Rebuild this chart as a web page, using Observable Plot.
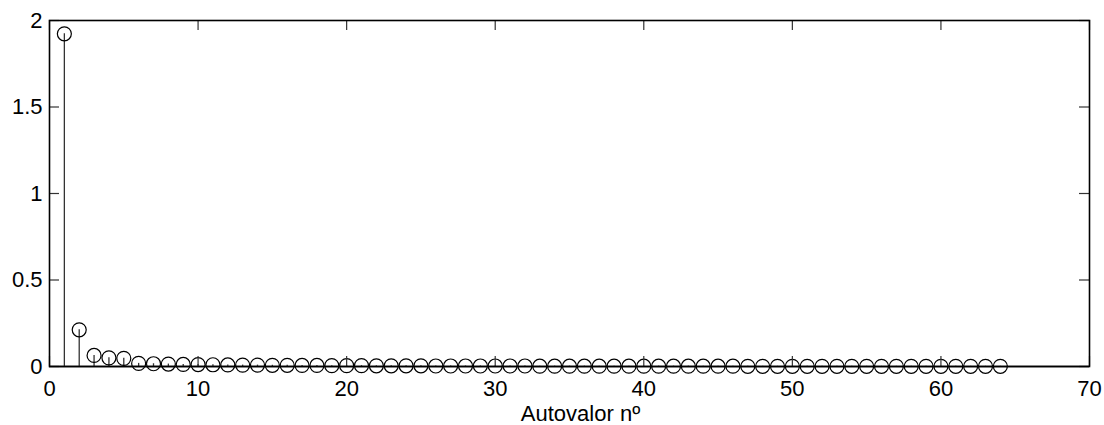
<!DOCTYPE html>
<html>
<head>
<meta charset="utf-8">
<script src="https://cdn.jsdelivr.net/npm/d3@7"></script>
<script src="https://cdn.jsdelivr.net/npm/@observablehq/plot@0.6"></script>
<style>
  body { margin: 0; background: #fff; }
</style>
</head>
<body>
<div id="chart"></div>
<script>
// Eigenvalues in order of magnitude (stem plot)
const eigenvalues = [
  1.923, 0.212, 0.064, 0.050, 0.047, 0.018, 0.016, 0.014, 0.012, 0.011,
  0.010, 0.009, 0.008, 0.008, 0.007, 0.007, 0.006, 0.006, 0.005, 0.005,
  0.005, 0.004, 0.004, 0.004, 0.004, 0.003, 0.003, 0.003, 0.003, 0.003,
  0.003, 0.003, 0.002, 0.002, 0.002, 0.002, 0.002, 0.002, 0.002, 0.002,
  0.002, 0.002, 0.002, 0.002, 0.002, 0.002, 0.001, 0.001, 0.001, 0.001,
  0.001, 0.001, 0.001, 0.001, 0.001, 0.001, 0.001, 0.001, 0.001, 0.001,
  0.001, 0.001, 0.001, 0.001
];
const xTicks = [0, 10, 20, 30, 40, 50, 60, 70];
const yTicks = [0, 0.5, 1, 1.5, 2];
const xLabel = "Autovalor nº";

const data = eigenvalues.map((v, i) => ({n: i + 1, v}));

const W = 1104, H = 425;
const mL = 49, mR = 15, mT = 20, mB = 59;
const innerW = W - mL - mR, innerH = H - mT - mB;
const tickLen = 10;

const chart = Plot.plot({
  width: W,
  height: H,
  marginLeft: mL,
  marginRight: mR,
  marginTop: mT,
  marginBottom: mB,
  style: {
    fontFamily: '"Liberation Sans", Arial, Helvetica, sans-serif',
    fontSize: "22px",
    background: "white",
    color: "black"
  },
  x: {domain: [0, 70]},
  y: {domain: [0, 2]},
  marks: [
    Plot.axisX(xTicks, {tickSize: 0, tickPadding: 14, label: null, tickFormat: d => String(d), fontSize: 22}),
    Plot.axisY(yTicks, {tickSize: 0, tickPadding: 7, label: null, tickFormat: d => String(d), fontSize: 22}),
    // stems and baseline
    Plot.ruleY([0], {stroke: "black", strokeWidth: 1.5}),
    Plot.ruleX(data, {x: "n", y1: 0, y2: "v", stroke: "#333", strokeWidth: 1.3}),
    Plot.dot(data, {x: "n", y: "v", r: 7, stroke: "black", fill: "none", strokeWidth: 1.2}),
    // inward tick marks on all four sides
    Plot.ruleX(xTicks, {stroke: "#333", strokeWidth: 1.2, insetTop: innerH - tickLen}),
    Plot.ruleX(xTicks, {stroke: "#333", strokeWidth: 1.2, insetBottom: innerH - tickLen}),
    Plot.ruleY(yTicks, {stroke: "#333", strokeWidth: 1.2, insetRight: innerW - tickLen}),
    Plot.ruleY(yTicks, {stroke: "#333", strokeWidth: 1.2, insetLeft: innerW - tickLen}),
    Plot.frame({stroke: "black", strokeWidth: 1.6}),
    Plot.text([xLabel], {
      frameAnchor: "bottom", dy: 54, dx: 11, lineAnchor: "bottom",
      fontSize: 22, fill: "black", style: "letter-spacing: 1.8px"
    })
  ]
});

document.getElementById("chart").appendChild(chart);
</script>
</body>
</html>
